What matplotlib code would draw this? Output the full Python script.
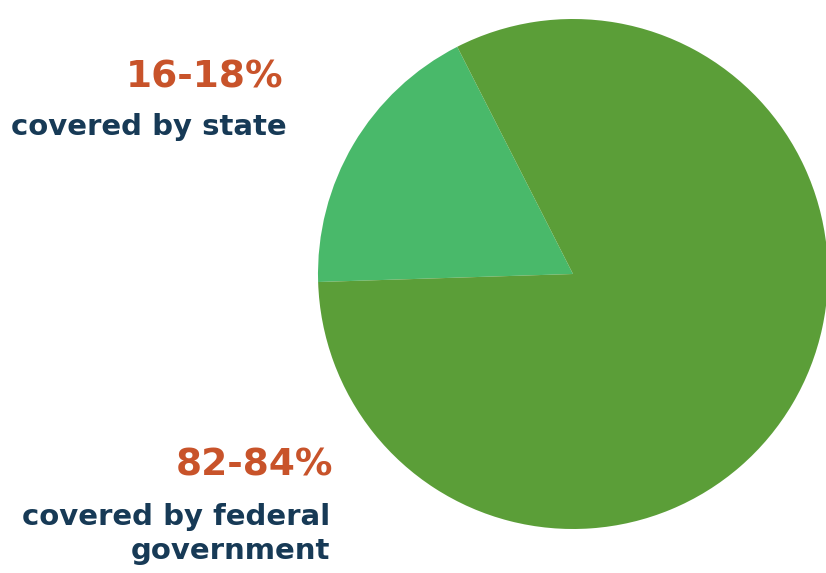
import matplotlib
matplotlib.use("Agg")
import matplotlib.pyplot as plt

# shares of coverage (upper ends of the ranges)
labels = ["covered by state", "covered by federal\ngovernment"]
ranges = ["16-18%", "82-84%"]
shares = [18, 82]
colors = ["#49B96A", "#5B9E38"]

W, H = 826, 573
fig = plt.figure(figsize=(W / 100, H / 100), dpi=100)
ax = fig.add_axes([0, 0, 1, 1])

ax.pie(shares, colors=colors, startangle=117, counterclock=True,
       center=(573, H - 274), radius=255, frame=True,
       wedgeprops={"linewidth": 0})
ax.set_xlim(0, W)
ax.set_ylim(0, H)
ax.set_aspect("equal")
ax.axis("off")

orange = "#C8532A"
navy = "#173A56"
font = "DejaVu Sans"

ax.text(283, H - 88, ranges[0], ha="right", va="baseline", fontsize=27,
        fontweight="bold", color=orange, family=font)
ax.text(287, H - 135, labels[0], ha="right", va="baseline", fontsize=21,
        fontweight="bold", color=navy, family=font)

ax.text(333, H - 475, ranges[1], ha="right", va="baseline", fontsize=27,
        fontweight="bold", color=orange, family=font)
line1, line2 = labels[1].split("\n")
ax.text(330, H - 525, line1, ha="right", va="baseline", fontsize=21,
        fontweight="bold", color=navy, family=font)
ax.text(330, H - 559, line2, ha="right", va="baseline", fontsize=21,
        fontweight="bold", color=navy, family=font)

fig.savefig("out.png", dpi=100)
